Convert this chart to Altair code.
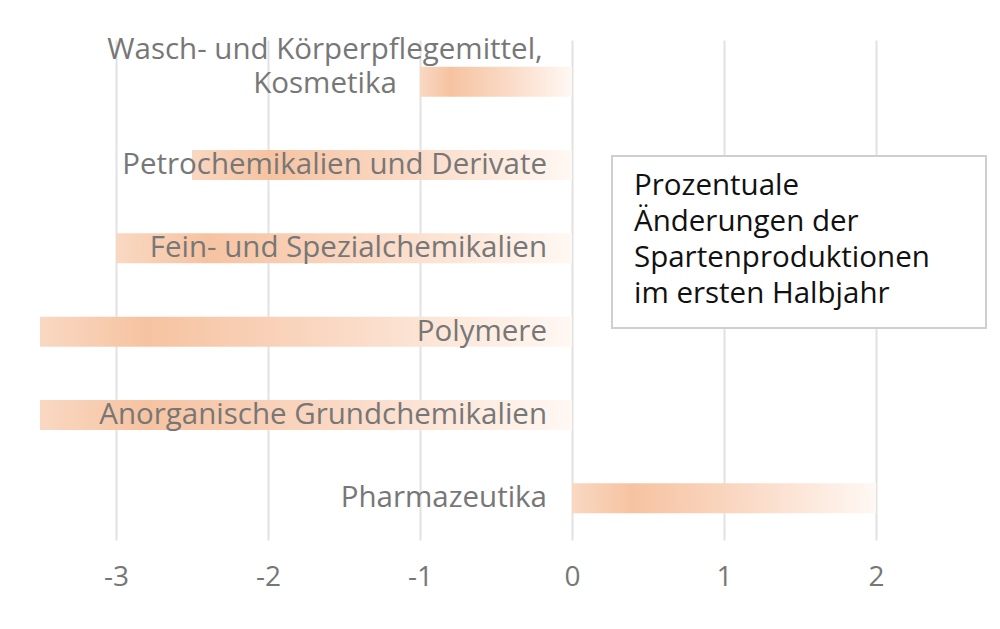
import altair as alt
import pandas as pd

categories = [
    "Wasch- und Körperpflegemittel, Kosmetika",
    "Petrochemikalien und Derivate",
    "Fein- und Spezialchemikalien",
    "Polymere",
    "Anorganische Grundchemikalien",
    "Pharmazeutika",
]
values = [-1.0, -2.5, -3.0, -3.5, -3.5, 2.0]
ticks = [-3, -2, -1, 0, 1, 2]
box_lines = ["Prozentuale", "Änderungen der", "Spartenproduktionen", "im ersten Halbjahr"]

df = pd.DataFrame({"cat": categories, "value": values, "zero": 0})
df["label"] = [c if i > 0 else ["Wasch- und Körperpflegemittel,", "Kosmetika"]
               for i, c in enumerate(categories)]

FONT = "Open Sans"
GRAY = "#777777"
SIZE = 29.5

x = alt.X(
    "value:Q",
    scale=alt.Scale(domain=[-3.5, 2.75], nice=False, zero=False),
    axis=alt.Axis(
        values=ticks, title=None, ticks=False, domain=False,
        labelExpr="'' + datum.value",
        labelFontSize=28, labelColor=GRAY, labelFont=FONT, labelPadding=23,
        gridColor="#e2e2e2", gridWidth=2,
    ),
)
y = alt.Y(
    "cat:N", sort=categories, axis=None,
    scale=alt.Scale(paddingInner=0.64, paddingOuter=0.32),
)

bars = alt.Chart(df).mark_bar(
    color=alt.LinearGradient(
        gradient="linear", x1=0, x2=1, y1=0, y2=0,
        stops=[
            alt.GradientStop(offset=0, color="#f9d8c2"),
            alt.GradientStop(offset=0.2, color="#f6c3a1"),
            alt.GradientStop(offset=0.55, color="#fad8c3"),
            alt.GradientStop(offset=1, color="#fff8f3"),
        ],
    )
).encode(x=x, x2="zero:Q", y=y)

labels = alt.Chart(df.iloc[1:]).mark_text(
    align="right", baseline="middle", dx=-25, font=FONT, fontSize=SIZE, color=GRAY
).encode(x="zero:Q", y=y, text="label")

top_label = alt.Chart(df.iloc[:1]).mark_text(
    align="center", baseline="middle", dx=-247, dy=-32, lineHeight=34,
    font=FONT, fontSize=SIZE, color=GRAY,
).encode(x="zero:Q", y=y, text="label")

box_df = pd.DataFrame({"t": [box_lines]})
box = alt.Chart(box_df).mark_rect(
    fill="white", stroke="#cfcfcf", strokeWidth=2
).encode(x=alt.value(572), x2=alt.value(946), y=alt.value(116), y2=alt.value(288))

box_text = alt.Chart(box_df).mark_text(
    align="left", baseline="alphabetic", lineHeight=36,
    font=FONT, fontSize=SIZE, color="#111111",
).encode(x=alt.value(594), y=alt.value(155), text="t")

chart = (
    alt.layer(bars, labels, top_label, box, box_text)
    .properties(
        width=950, height=500,
        autosize=alt.AutoSizeParams(type="none"),
        padding={"left": 32, "top": 32, "right": 2, "bottom": 70},
    )
    .configure_view(stroke=None)
)

chart.save("out.html", embed_options={"renderer": "svg", "actions": False})
